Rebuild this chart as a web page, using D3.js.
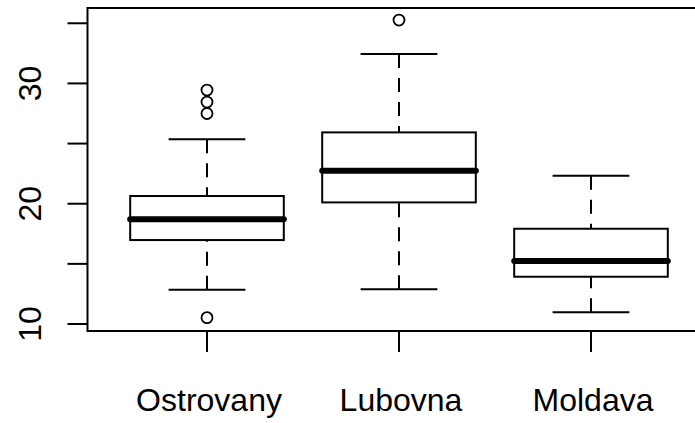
<!DOCTYPE html>
<html>
<head>
<meta charset="utf-8">
<script src="https://cdn.jsdelivr.net/npm/d3@7"></script>
<style>
  body { margin: 0; background: #fff; }
  text { font-family: "Liberation Sans", Arial, sans-serif; fill: #000; }
</style>
</head>
<body>
<div id="chart"></div>
<script>
// R-style boxplot, three sites

// data
let categories = ["Ostrovany", "Lubovna", "Moldava"];
let whiskerLow = [12.85, 12.9, 10.97];
let q1 = [16.98, 20.11, 13.93];
let median = [18.70, 22.74, 15.24];
let q3 = [20.64, 25.93, 17.92];
let whiskerHigh = [25.35, 32.44, 22.33];
let outliers = [[10.53, 27.5, 28.45, 29.45], [35.27], []];
let yTicks = [10, 15, 20, 25, 30, 35];
let yLabels = [10, 20, 30];

let svgWidth = 695;
let svgHeight = 423;

// plot region (right edge runs off the window like in the original)
let plot = { left: 87.5, right: 710, top: 8, bottom: 331 };

let svg = d3.select("#chart")
    .append("svg")
    .attr("width", svgWidth)
    .attr("height", svgHeight);

let x = d3.scalePoint()
    .domain(categories)
    .range([111, 687])
    .padding(0.5);

let y = d3.scaleLinear()
    .domain([9.42, 36.27])
    .range([plot.bottom, plot.top]);

let boxW = x.step() * 0.8;
let capW = boxW / 2;

let rows = categories.map((c, i) => ({
    name: c, lo: whiskerLow[i], q1: q1[i], med: median[i],
    q3: q3[i], hi: whiskerHigh[i], out: outliers[i]
}));

let g = svg.selectAll("g.box")
    .data(rows)
    .enter()
    .append("g")
    .attr("class", "box");

// dashed whiskers, drawn from whisker end toward the box
g.append("line")
    .attr("x1", d => x(d.name)).attr("x2", d => x(d.name))
    .attr("y1", d => y(d.hi)).attr("y2", d => y(d.q3))
    .attr("stroke", "#000").attr("stroke-width", 2)
    .attr("stroke-dasharray", "14,10");
g.append("line")
    .attr("x1", d => x(d.name)).attr("x2", d => x(d.name))
    .attr("y1", d => y(d.lo)).attr("y2", d => y(d.q1))
    .attr("stroke", "#000").attr("stroke-width", 2)
    .attr("stroke-dasharray", "14,10");

// caps
["hi", "lo"].forEach(k => {
    g.append("line")
        .attr("x1", d => x(d.name) - capW / 2)
        .attr("x2", d => x(d.name) + capW / 2)
        .attr("y1", d => y(d[k])).attr("y2", d => y(d[k]))
        .attr("stroke", "#000").attr("stroke-width", 2);
});

// box
g.append("rect")
    .attr("x", d => x(d.name) - boxW / 2)
    .attr("width", boxW)
    .attr("y", d => y(d.q3))
    .attr("height", d => y(d.q1) - y(d.q3))
    .attr("fill", "none")
    .attr("stroke", "#000")
    .attr("stroke-width", 2);

// median
g.append("line")
    .attr("x1", d => x(d.name) - boxW / 2)
    .attr("x2", d => x(d.name) + boxW / 2)
    .attr("y1", d => y(d.med)).attr("y2", d => y(d.med))
    .attr("stroke", "#000")
    .attr("stroke-width", 6)
    .attr("stroke-linecap", "round");

// outliers
g.selectAll("circle")
    .data(d => d.out.map(v => ({ name: d.name, v: v })))
    .enter()
    .append("circle")
    .attr("cx", d => x(d.name))
    .attr("cy", d => y(d.v))
    .attr("r", 5.5)
    .attr("fill", "none")
    .attr("stroke", "#000")
    .attr("stroke-width", 1.8);

// frame
svg.append("rect")
    .attr("x", plot.left).attr("y", plot.top)
    .attr("width", plot.right - plot.left)
    .attr("height", plot.bottom - plot.top)
    .attr("fill", "none")
    .attr("stroke", "#000")
    .attr("stroke-width", 2);

// y axis ticks and labels
svg.selectAll("line.ytick")
    .data(yTicks)
    .enter()
    .append("line")
    .attr("class", "ytick")
    .attr("x1", plot.left - 20).attr("x2", plot.left)
    .attr("y1", d => y(d)).attr("y2", d => y(d))
    .attr("stroke", "#000").attr("stroke-width", 2);

svg.selectAll("text.ylab")
    .data(yLabels)
    .enter()
    .append("text")
    .attr("class", "ylab")
    .attr("transform", d => `translate(41,${y(d)}) rotate(-90)`)
    .attr("text-anchor", "middle")
    .attr("font-size", "32px")
    .text(d => d);

// x axis ticks and labels
svg.selectAll("line.xtick")
    .data(categories)
    .enter()
    .append("line")
    .attr("class", "xtick")
    .attr("x1", d => x(d)).attr("x2", d => x(d))
    .attr("y1", plot.bottom).attr("y2", plot.bottom + 21)
    .attr("stroke", "#000").attr("stroke-width", 2);

svg.selectAll("text.xlab")
    .data(categories)
    .enter()
    .append("text")
    .attr("class", "xlab")
    .attr("transform", d => `translate(${x(d) + 2},411)`)
    .attr("text-anchor", "middle")
    .attr("font-size", "32px")
    .text(d => d);
</script>
</body>
</html>
